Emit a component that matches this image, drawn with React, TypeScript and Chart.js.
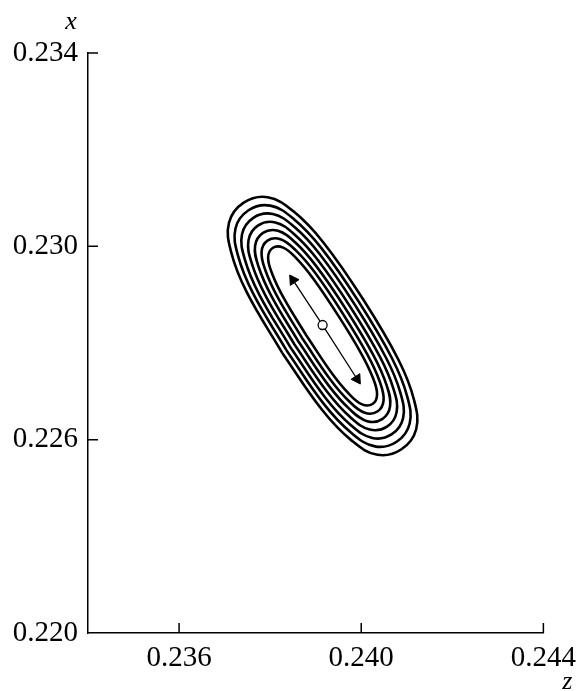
import React, { useEffect, useRef } from 'react';
import { Chart, registerables } from 'chart.js';

Chart.register(...registerables);

// Axis ticks (z = horizontal, x = vertical)
const zTickValues = [0.236, 0.24, 0.244];
const zTickLabels = ['0.236', '0.240', '0.244'];
const xTickValues = [0.222, 0.226, 0.23, 0.234];
const xTickLabels = ['0.220', '0.226', '0.230', '0.234'];

// Contour rings, points as [z, x], inner to outer
const contour1 = [
  [0.238807, 0.228138], [0.238303, 0.228922], [0.238048, 0.229424], [0.237955, 0.229768],
  [0.238055, 0.229966], [0.238285, 0.229973], [0.238576, 0.229752], [0.238952, 0.229325],
  [0.239496, 0.228566], [0.24, 0.227782], [0.240256, 0.22728], [0.240348, 0.226935],
  [0.240248, 0.226738], [0.240018, 0.226731], [0.239727, 0.226952], [0.239351, 0.227379],
];
const contour2 = [
  [0.238716, 0.228081], [0.238167, 0.228943], [0.237897, 0.2295], [0.237812, 0.229888],
  [0.237949, 0.230122], [0.238228, 0.230147], [0.238564, 0.229915], [0.238987, 0.229452],
  [0.239587, 0.228622], [0.240136, 0.22776], [0.240406, 0.227203], [0.240491, 0.226815],
  [0.240354, 0.226582], [0.240075, 0.226557], [0.239739, 0.226789], [0.239316, 0.227251],
];
const contour3 = [
  [0.238625, 0.228025], [0.238031, 0.228965], [0.237746, 0.229577], [0.237669, 0.230008],
  [0.237843, 0.230278], [0.238172, 0.23032], [0.238553, 0.230078], [0.239021, 0.22958],
  [0.239678, 0.228678], [0.240272, 0.227739], [0.240557, 0.227127], [0.240634, 0.226695],
  [0.24046, 0.226426], [0.240131, 0.226383], [0.239751, 0.226626], [0.239282, 0.227124],
];
const contour4 = [
  [0.238534, 0.227969], [0.237895, 0.228987], [0.237595, 0.229653], [0.237525, 0.230128],
  [0.237737, 0.230434], [0.238115, 0.230494], [0.238541, 0.23024], [0.239056, 0.229708],
  [0.239769, 0.228735], [0.240409, 0.227717], [0.240708, 0.22705], [0.240778, 0.226575],
  [0.240566, 0.226269], [0.240188, 0.226209], [0.239762, 0.226463], [0.239247, 0.226996],
];
const contour5 = [
  [0.238444, 0.227912], [0.237758, 0.229008], [0.237444, 0.22973], [0.237382, 0.230248],
  [0.237631, 0.23059], [0.238059, 0.230668], [0.238529, 0.230403], [0.239091, 0.229835],
  [0.23986, 0.228791], [0.240545, 0.227695], [0.240859, 0.226974], [0.240921, 0.226455],
  [0.240672, 0.226113], [0.240244, 0.226035], [0.239774, 0.2263], [0.239212, 0.226868],
];
const contour6 = [
  [0.238353, 0.227856], [0.237622, 0.22903], [0.237294, 0.229806], [0.237239, 0.230368],
  [0.237525, 0.230746], [0.238003, 0.230842], [0.238517, 0.230566], [0.239126, 0.229963],
  [0.23995, 0.228847], [0.240681, 0.227674], [0.241009, 0.226897], [0.241064, 0.226335],
  [0.240778, 0.225957], [0.240301, 0.225861], [0.239786, 0.226138], [0.239177, 0.226741],
];
const contour7 = [
  [0.238262, 0.2278], [0.237486, 0.229051], [0.237143, 0.229883], [0.237096, 0.230488],
  [0.237419, 0.230903], [0.237946, 0.231016], [0.238505, 0.230729], [0.23916, 0.230091],
  [0.240041, 0.228904], [0.240817, 0.227653], [0.24116, 0.226821], [0.241207, 0.226215],
  [0.240884, 0.225801], [0.240357, 0.225687], [0.239798, 0.225975], [0.239143, 0.226613],
];
const contours = [contour1, contour2, contour3, contour4, contour5, contour6, contour7];

// Arrow through the optimum: [z, x] of head (up-left), centre point, head (down-right)
const arrowPoints = [
  [0.238502, 0.229303],
  [0.239152, 0.228372],
  [0.239909, 0.227255],
];
const arrowRotations = [-33.4, 0, 147.2];

const SERIF = '"Liberation Serif", "Times New Roman", serif';

const axisDecor = {
  id: 'axisDecor',
  afterDraw(chart: any) {
    const { ctx, chartArea } = chart;
    const xs = chart.scales.x;
    const ys = chart.scales.y;
    ctx.save();
    ctx.strokeStyle = '#000';
    ctx.lineWidth = 1.5;
    ctx.beginPath();
    zTickValues.forEach((v) => {
      const px = xs.getPixelForValue(v);
      ctx.moveTo(px, chartArea.bottom);
      ctx.lineTo(px, chartArea.bottom - 10);
    });
    xTickValues.forEach((v) => {
      if (v === ys.min) return;
      const py = ys.getPixelForValue(v);
      ctx.moveTo(chartArea.left, py);
      ctx.lineTo(chartArea.left + 10, py);
    });
    ctx.stroke();
    ctx.fillStyle = '#000';
    ctx.font = 'italic 26px ' + SERIF;
    ctx.textAlign = 'center';
    ctx.textBaseline = 'middle';
    ctx.fillText('x', chartArea.left - 17, chartArea.top - 31);
    ctx.fillText('z', chartArea.right + 24, chartArea.bottom + 49);
    ctx.restore();
  },
};

export default function App() {
  const ref = useRef<HTMLCanvasElement | null>(null);
  useEffect(() => {
    if (!ref.current) return;
    const datasets: any[] = contours.map((ring) => {
      const pts = ring.map(([z, x]) => ({ x: z, y: x }));
      pts.push({ ...pts[0] });
      return {
        data: pts,
        showLine: true,
        borderColor: '#000',
        borderWidth: 2.6,
        tension: 0.4,
        pointRadius: 0,
        fill: false,
      };
    });
    datasets.push({
      data: arrowPoints.map(([z, x]) => ({ x: z, y: x })),
      showLine: true,
      borderColor: '#000',
      borderWidth: 1.3,
      tension: 0,
      pointStyle: ['triangle', 'circle', 'triangle'],
      pointRadius: [6, 4.5, 6],
      pointRotation: arrowRotations,
      pointBackgroundColor: ['#000', '#fff', '#000'],
      pointBorderColor: '#000',
      pointBorderWidth: [1, 1.3, 1],
    });
    const chart = new Chart(ref.current, {
      type: 'scatter',
      data: { datasets },
      plugins: [axisDecor],
      options: {
        animation: false,
        responsive: false,
        maintainAspectRatio: false,
        events: [],
        layout: { padding: { top: 53, right: 34, left: 0, bottom: 0 } },
        plugins: { legend: { display: false }, tooltip: { enabled: false }, title: { display: false } },
        scales: {
          x: {
            type: 'linear',
            min: 0.234,
            max: 0.244,
            grid: { display: false, drawTicks: false },
            border: { display: true, color: '#000', width: 1.5 },
            afterBuildTicks: (s: any) => {
              s.ticks = zTickValues.map((value) => ({ value }));
            },
            afterFit: (s: any) => {
              s.height = 58;
            },
            ticks: {
              autoSkip: false,
              maxRotation: 0,
              padding: 8,
              color: '#000',
              font: { family: SERIF, size: 29 },
              callback: (_v: any, i: number) => zTickLabels[i],
            },
          },
          y: {
            type: 'linear',
            min: 0.222,
            max: 0.234,
            grid: { display: false, drawTicks: false },
            border: { display: true, color: '#000', width: 1.5 },
            afterBuildTicks: (s: any) => {
              s.ticks = xTickValues.map((value) => ({ value }));
            },
            afterFit: (s: any) => {
              s.width = 88;
            },
            ticks: {
              autoSkip: false,
              padding: 10,
              color: '#000',
              font: { family: SERIF, size: 29 },
              callback: (_v: any, i: number) => xTickLabels[i],
            },
          },
        },
      },
    });
    return () => chart.destroy();
  }, []);
  return (
    <div style={{ position: 'absolute', left: 0, top: 0, width: 584, height: 691, background: '#fff' }}>
      <canvas ref={ref} width={584} height={691} style={{ width: 584, height: 691 }} />
    </div>
  );
}
